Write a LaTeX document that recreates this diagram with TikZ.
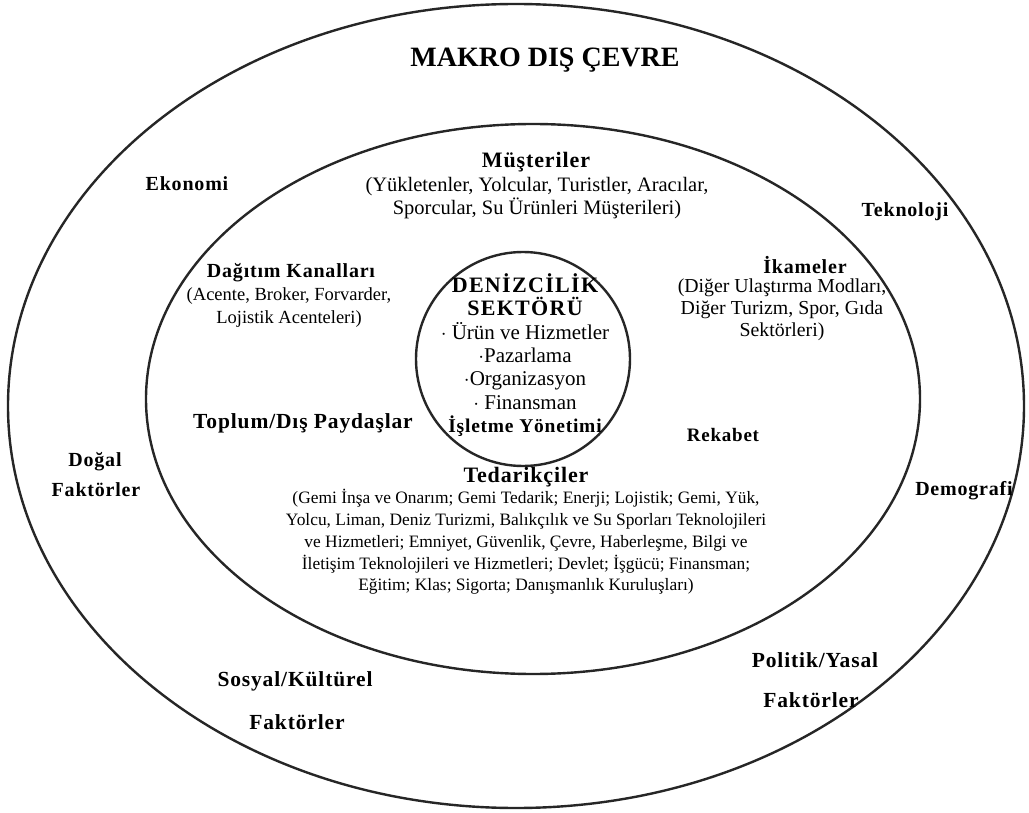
\documentclass[tikz,border=0pt]{standalone}
\usepackage{fontspec}
\setmainfont{Liberation Serif}
\newfontfamily\headfont[LetterSpace=4]{Liberation Serif}
\newfontfamily\wideheadfont[LetterSpace=6]{Liberation Serif}
\begin{document}
\begin{tikzpicture}[x=1pt,y=-1pt,
  ring/.style={draw=black!85,line width=2.4pt},
  head/.style={inner sep=0pt,font=\fontsize{20}{24}\selectfont\headfont\bfseries},
  headl/.style={inner sep=0pt,font=\fontsize{21.5}{24}\selectfont\headfont\bfseries},
  big/.style={inner sep=0pt,font=\fontsize{28}{30}\selectfont\bfseries},
  body/.style={inner sep=0pt,align=center,font=\fontsize{19}{23}\selectfont},
  core/.style={inner sep=0pt,align=center,font=\fontsize{21}{23.3}\selectfont},
  list/.style={inner sep=0pt,align=center,font=\fontsize{17.4}{21.8}\selectfont}]
\useasboundingbox (0,0) rectangle (1029,813);
\fill[white] (0,0) rectangle (1029,813);

% three nested rings
\draw[ring] (516,406) ellipse [x radius=508pt, y radius=402pt];
\draw[ring] (533,399) ellipse [x radius=387pt, y radius=275pt];
\draw[ring] (523,359) circle [radius=107pt];

% outer ring: macro environment
\node[big]  (makro)  at (545,60)  {MAKRO DIŞ ÇEVRE};
\node[head] (eko)    at (187,184) {Ekonomi};
\node[head] (tek)    at (905,212) {Teknoloji};
\node[head] (dogal1) at (95,462)  {Doğal};
\node[head] (dogal2) at (96,490)  {Faktörler};
\node[head] (demo)   at (964,491) {Demografi};
\node[headl] (sos1)  at (295,681) {Sosyal/Kültürel};
\node[headl] (sos2)  at (297,722) {Faktörler};
\node[headl] (pol1)  at (815,660) {Politik/Yasal};
\node[headl] (pol2)  at (811,700) {Faktörler};

% middle ring: task environment
\node[head, font=\fontsize{22}{24}\selectfont\headfont\bfseries] (mus) at (536,162) {Müşteriler};
\node[body, font=\fontsize{20.5}{23}\selectfont] (musb) at (537,198) {(Yükletenler, Yolcular, Turistler, Aracılar,\\Sporcular, Su Ürünleri Müşterileri)};
\node[head] (dag)  at (291,273) {Dağıtım Kanalları};
\node[body, font=\fontsize{18.5}{23}\selectfont] (dagb) at (289,308) {(Acente, Broker, Forvarder,\\Lojistik Acenteleri)};
\node[head] (ika)  at (805,265) {İkameler};
\node[body, font=\fontsize{19.8}{22}\selectfont] (ikab) at (782,310) {(Diğer Ulaştırma Modları,\\Diğer Turizm, Spor, Gıda\\Sektörleri)};
\node[headl] (top) at (303,423) {Toplum/Dış Paydaşlar};
\node[head, font=\fontsize{19}{22}\selectfont\headfont\bfseries] (rek) at (723,435) {Rekabet};
\node[head, font=\fontsize{22}{24}\selectfont\headfont\bfseries] (ted) at (526,477) {Tedarikçiler};
\node[list] (tedb) at (526,542) {(Gemi İnşa ve Onarım; Gemi Tedarik; Enerji; Lojistik; Gemi, Yük,\\
Yolcu, Liman, Deniz Turizmi, Balıkçılık ve Su Sporları Teknolojileri\\
ve Hizmetleri; Emniyet, Güvenlik, Çevre, Haberleşme, Bilgi ve\\
İletişim Teknolojileri ve Hizmetleri; Devlet; İşgücü; Finansman;\\
Eğitim; Klas; Sigorta; Danışmanlık Kuruluşları)};

% core: the maritime sector
\node[core] (sek) at (525,355) {{\fontsize{22}{23.3}\selectfont\wideheadfont\bfseries DENİZCİLİK}\\{\fontsize{22}{23.3}\selectfont\wideheadfont\bfseries SEKTÖRÜ}\\
$\cdot$ Ürün ve Hizmetler\\$\cdot$Pazarlama\\$\cdot$Organizasyon\\$\cdot$ Finansman\\{\fontsize{19.5}{23.3}\selectfont\headfont\bfseries İşletme Yönetimi}};
\end{tikzpicture}
\end{document}
